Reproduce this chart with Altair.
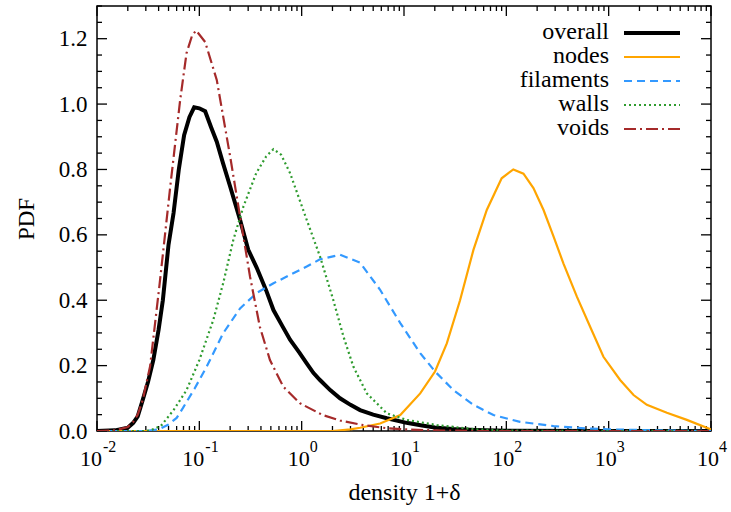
import altair as alt
import pandas as pd

# ---------------- data ----------------
names = ["overall", "nodes", "filaments", "walls", "voids"]

overall_x = [0.01, 0.015, 0.02, 0.0226, 0.025, 0.028, 0.0315, 0.0355, 0.04, 0.044, 0.05, 0.056,
             0.063, 0.071, 0.08, 0.089, 0.1, 0.114, 0.13, 0.148, 0.17, 0.2, 0.25, 0.3, 0.363,
             0.45, 0.53, 0.65, 0.77, 0.95, 1.12, 1.3, 1.51, 1.9, 2.37, 3.0, 3.72, 5.0, 6.8,
             10.6, 15, 20, 30, 50, 100, 1000, 10000]
overall_y = [0.0, 0.002, 0.01, 0.025, 0.045, 0.095, 0.15, 0.217, 0.31, 0.40, 0.57, 0.667,
             0.80, 0.905, 0.96, 0.99, 0.987, 0.978, 0.93, 0.885, 0.82, 0.748, 0.646, 0.555, 0.50,
             0.43, 0.37, 0.32, 0.279, 0.24, 0.207, 0.178, 0.156, 0.125, 0.10, 0.08, 0.064, 0.05,
             0.039, 0.025, 0.017, 0.011, 0.006, 0.003, 0.001, 0.0, 0.0]

nodes_x = [0.01, 2, 3, 3.72, 5.84, 9.2, 14.4, 20.1, 26.2, 35.3, 47.7, 64.4, 90, 117, 147, 184,
           231, 289, 361, 489, 659, 889, 1294, 1750, 2362, 3705, 5808, 10000]
nodes_y = [0.0, 0.0, 0.005, 0.01, 0.023, 0.049, 0.115, 0.182, 0.268, 0.40, 0.554, 0.676, 0.773,
           0.80, 0.787, 0.743, 0.676, 0.595, 0.513, 0.411, 0.319, 0.227, 0.156, 0.11, 0.08,
           0.056, 0.034, 0.005]

filaments_x = [0.01, 0.03, 0.04, 0.05, 0.06, 0.069, 0.09, 0.118, 0.171, 0.25, 0.363, 0.53, 0.8,
               1.12, 1.51, 2.37, 3.72, 5.84, 9.2, 14.4, 20.1, 30.4, 47.7, 74.8, 136, 290, 600,
               1000, 3000, 10000]
filaments_y = [0.0, 0.0, 0.005, 0.02, 0.04, 0.07, 0.13, 0.197, 0.299, 0.375, 0.422, 0.452, 0.48,
               0.503, 0.525, 0.539, 0.515, 0.432, 0.33, 0.238, 0.182, 0.125, 0.08, 0.049, 0.028,
               0.015, 0.008, 0.005, 0.002, 0.0]

walls_x = [0.01, 0.03, 0.035, 0.042, 0.056, 0.075, 0.10, 0.137, 0.171, 0.215, 0.27, 0.36, 0.45,
           0.53, 0.63, 0.77, 1.12, 1.51, 2.04, 2.56, 3.2, 4.33, 6.8, 10.6, 21, 50, 100, 10000]
walls_y = [0.0, 0.0, 0.005, 0.015, 0.064, 0.125, 0.217, 0.34, 0.452, 0.585, 0.687, 0.789, 0.84,
           0.862, 0.845, 0.789, 0.646, 0.534, 0.40, 0.289, 0.197, 0.115, 0.054, 0.034, 0.018,
           0.005, 0.001, 0.0]

voids_x = [0.01, 0.015, 0.02, 0.0226, 0.025, 0.028, 0.033, 0.041, 0.052, 0.065, 0.075, 0.085,
           0.093, 0.114, 0.148, 0.2, 0.25, 0.313, 0.39, 0.49, 0.66, 0.96, 1.6, 2.37, 4, 7, 10,
           20, 50, 10000]
voids_y = [0.0, 0.002, 0.012, 0.028, 0.05, 0.095, 0.197, 0.452, 0.748, 1.013, 1.156, 1.21,
           1.225, 1.19, 1.074, 0.84, 0.656, 0.472, 0.319, 0.217, 0.136, 0.085, 0.049, 0.032,
           0.018, 0.008, 0.005, 0.002, 0.0, 0.0]

series_x = [overall_x, nodes_x, filaments_x, walls_x, voids_x]
series_y = [overall_y, nodes_y, filaments_y, walls_y, voids_y]

x_major = [0.01, 0.1, 1, 10, 100, 1000, 10000]
x_exponents = ["-2", "-1", "0", "1", "2", "3", "4"]
y_major = [0.0, 0.2, 0.4, 0.6, 0.8, 1.0, 1.2]

# ---------------- styles ----------------
colors = ["#000000", "#FFA500", "#3399FF", "#2E9B2E", "#A52A2A"]
dashes = [None, None, [8, 5], [2, 3], [12, 4, 2, 4]]
widths = [4, 2.2, 2.2, 2.2, 2.2]

W, H = 614, 425
FONT = "Liberation Serif"

x_minor = [m * d for d in [0.01, 0.1, 1, 10, 100, 1000] for m in range(2, 10)]
y_minor = [round(i * 0.05, 2) for i in range(0, 27) if i % 4 != 0]

xscale = alt.Scale(type="log", domain=[0.01, 10000], nice=False)
yscale = alt.Scale(domain=[0, 1.3], nice=False, zero=False)

xaxis = alt.Axis(labels=False, ticks=False, domain=False, grid=False,
                 title="density 1+δ", titleFont=FONT, titleFontSize=24,
                 titleFontWeight="normal", titleColor="black", titlePadding=49)
yaxis = alt.Axis(values=y_major, format=".1f", ticks=False, domain=False, grid=False,
                 labelFont=FONT, labelFontSize=23, labelColor="black", labelPadding=10,
                 labelFlush=False, labelOverlap=False,
                 title="PDF", titleFont=FONT, titleFontSize=23, titleFontWeight="normal",
                 titleColor="black", titlePadding=20)


def X(field="x"):
    return alt.X(f"{field}:Q", scale=xscale, axis=xaxis)


def Y(field="y"):
    return alt.Y(f"{field}:Q", scale=yscale, axis=yaxis)


layers = []

# tick marks (inside, mirrored)
xmaj = pd.DataFrame({"x": x_major})
xmin = pd.DataFrame({"x": x_minor})
ymaj = pd.DataFrame({"y": y_major})
ymin = pd.DataFrame({"y": y_minor})
tick = dict(color="black", strokeWidth=1.3)
for df, ln in [(xmaj, 10), (xmin, 5)]:
    layers.append(alt.Chart(df).mark_rule(**tick).encode(x=X(), y=alt.value(H), y2=alt.value(H - ln)))
    layers.append(alt.Chart(df).mark_rule(**tick).encode(x=X(), y=alt.value(0), y2=alt.value(ln)))
for df, ln in [(ymaj, 10), (ymin, 5)]:
    layers.append(alt.Chart(df).mark_rule(**tick).encode(y=Y(), x=alt.value(0), x2=alt.value(ln)))
    layers.append(alt.Chart(df).mark_rule(**tick).encode(y=Y(), x=alt.value(W), x2=alt.value(W - ln)))

# x tick labels 10^k
lab = pd.DataFrame({"x": x_major, "e": x_exponents})
neg = "datum.e[0] == '-'"
pos = "datum.e[0] != '-'"
for cond, bdx, edx in [(neg, -6, 6), (pos, -3, 8)]:
    layers.append(alt.Chart(lab).transform_filter(cond).mark_text(
        font=FONT, fontSize=22, color="black", align="center", baseline="alphabetic", dx=bdx
    ).encode(x=X(), y=alt.value(H + 35), text=alt.value("10")))
    layers.append(alt.Chart(lab).transform_filter(cond).mark_text(
        font=FONT, fontSize=16, color="black", align="left", baseline="alphabetic", dx=edx
    ).encode(x=X(), y=alt.value(H + 21), text="e:N"))

# curves
for i, n in enumerate(names):
    df = pd.DataFrame({"x": series_x[i], "y": series_y[i]})
    kw = dict(color=colors[i], strokeWidth=widths[i], clip=True)
    if dashes[i]:
        kw["strokeDash"] = dashes[i]
    layers.append(alt.Chart(df).mark_line(**kw).encode(x=X(), y=Y()))

# legend (gnuplot style: label right-aligned, sample to the right)
for i, n in enumerate(names):
    ly = 27 + 24 * i
    ldf = pd.DataFrame({"label": [n]})
    layers.append(alt.Chart(ldf).mark_text(
        font=FONT, fontSize=24, color="black", align="right", baseline="middle", dy=-1
    ).encode(x=alt.value(512), y=alt.value(ly), text="label:N"))
    kw = dict(color=colors[i], strokeWidth=widths[i])
    if dashes[i]:
        kw["strokeDash"] = dashes[i]
    layers.append(alt.Chart(ldf).mark_rule(**kw).encode(
        x=alt.value(527), x2=alt.value(583), y=alt.value(ly)))

chart = alt.layer(*layers).properties(
    width=W, height=H,
    autosize=alt.AutoSizeParams(type="none"),
    padding={"left": 97, "top": 6, "right": 20, "bottom": 81},
    background="white",
).configure_view(stroke="black", strokeWidth=1.5)

chart.save("out.html", embed_options={"renderer": "svg", "actions": False})
